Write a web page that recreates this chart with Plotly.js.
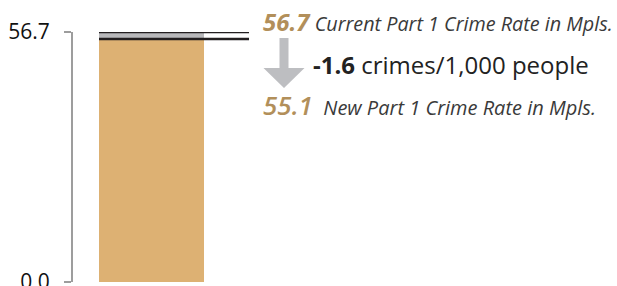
<!DOCTYPE html>
<html>
<head>
<meta charset="utf-8">
<script src="https://cdn.plot.ly/plotly-3.0.1.min.js"></script>
<style>html,body{margin:0;padding:0;background:#fff;}#chart{width:617px;height:286px;}</style>
</head>
<body>
<div id="chart"></div>
<script>
const categories = ["Minneapolis"];
const currentRate = [56.7];
const newRate = [55.1];
const changeRate = [-1.6];
const tickValues = [0, 56.7];
const tickLabels = ["0.0", "56.7"];
const currentLabel = "Current Part 1 Crime Rate in Mpls.";
const newLabel = "New Part 1 Crime Rate in Mpls.";
const changeUnit = "crimes/1,000 people";

const gold = "#B28F5A";
const barColor = "#DDB173";
const grayBand = "#B9B9BB";
const arrowGray = "#BDBEC1";
const textGray = "#3a3a3a";
const FONT = "'Open Sans', sans-serif";

const xPos = [0];
const diff = currentRate.map((c, i) => c - newRate[i]);

const traces = [
  {type: "bar", x: xPos, y: newRate, width: 1, marker: {color: barColor}, hoverinfo: "skip", name: categories[0]},
  {type: "bar", x: xPos, y: diff, base: newRate, width: 1, marker: {color: grayBand}, hoverinfo: "skip"}
];

function px2px(p) { return (p - 73) / 544; }
function py2py(p) { return (282 - p) / 250; }
const ax = [279.5, 288.5, 263.5, 304.5, 284].map(px2px);
const ay = [38, 68, 88].map(py2py);
const arrowPath = `M ${ax[0]},${ay[0]} L ${ax[1]},${ay[0]} L ${ax[1]},${ay[1]} L ${ax[3]},${ay[1]} L ${ax[4]},${ay[2]} L ${ax[2]},${ay[1]} L ${ax[0]},${ay[1]} Z`;

const layout = {
  width: 617, height: 286,
  margin: {l: 73, r: 0, t: 32, b: 4, pad: 0},
  paper_bgcolor: "#fff", plot_bgcolor: "#fff",
  showlegend: false,
  barmode: "overlay",
  font: {family: FONT, color: "#222"},
  xaxis: {range: [-0.7476, 4.433], visible: false, fixedrange: true},
  yaxis: {
    range: [0, currentRate[0]], showgrid: false, zeroline: false,
    showline: true, linecolor: "#9d9d9d", linewidth: 2,
    ticks: "outside", ticklen: 7, tickwidth: 2, tickcolor: "#9d9d9d",
    tickvals: tickValues, ticktext: tickLabels,
    tickfont: {family: FONT, size: 21, color: "#111"},
    ticklabelstandoff: 10,
    ticklabeloverflow: "allow"
  },
  shapes: [
    {type: "line", xref: "x", yref: "y", x0: -0.5, x1: 0.9286, y0: currentRate[0], y1: currentRate[0], line: {color: "#231f20", width: 2.5}, layer: "above"},
    {type: "line", xref: "x", yref: "y", x0: -0.5, x1: 0.9286, y0: newRate[0], y1: newRate[0], line: {color: "#231f20", width: 2.5}, layer: "above"},
    {type: "path", xref: "paper", yref: "paper", path: arrowPath, fillcolor: arrowGray, line: {width: 0}}
  ],
  annotations: [
    {xref: "paper", yref: "paper", x: px2px(261), y: py2py(22), xanchor: "left", yanchor: "middle", showarrow: false,
     text: `<b><i><span style="color:${gold};font-size:24px">${currentRate[0].toFixed(1)}</span></i></b> <i>${currentLabel}</i>`,
     font: {family: FONT, size: 19.8, color: textGray}},
    {xref: "paper", yref: "paper", x: px2px(311), y: py2py(64), xanchor: "left", yanchor: "middle", showarrow: false,
     text: `<b>${changeRate[0].toFixed(1)}</b> ${changeUnit}`,
     font: {family: FONT, size: 24, color: "#222"}},
    {xref: "paper", yref: "paper", x: px2px(261), y: py2py(105), xanchor: "left", yanchor: "middle", showarrow: false,
     text: `<i><span style="color:${gold};font-size:26px;font-weight:600">${newRate[0].toFixed(1)}</span></i>  <i>${newLabel}</i>`,
     font: {family: FONT, size: 20, color: textGray}}
  ]
};

Plotly.newPlot("chart", traces, layout, {displayModeBar: false, staticPlot: true});
</script>
</body>
</html>
